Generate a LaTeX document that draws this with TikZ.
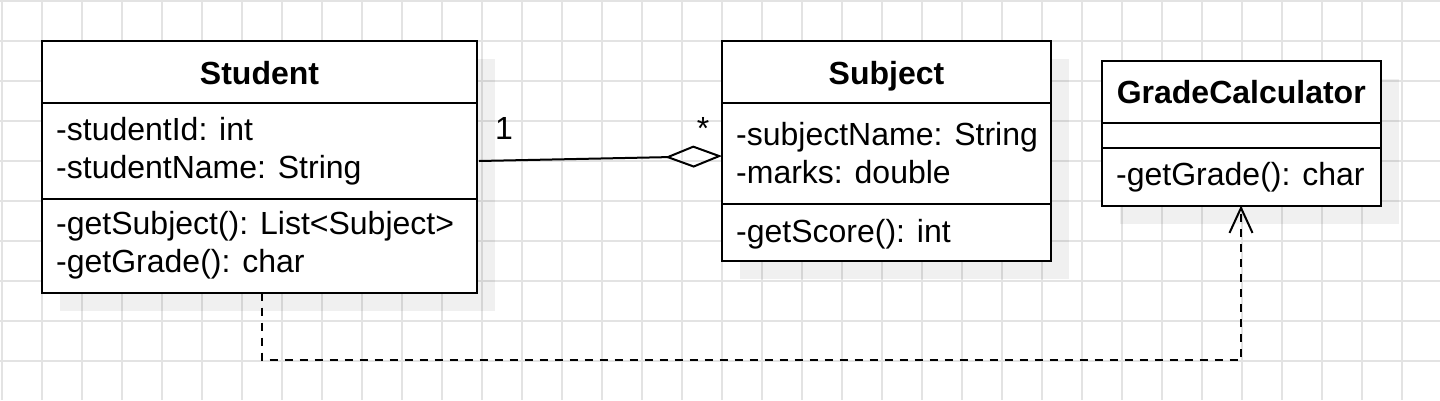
\documentclass[tikz,border=0pt]{standalone}
\usepackage{fontspec}
\setmainfont{Liberation Sans}
\usetikzlibrary{arrows.meta}
\begin{document}
\begin{tikzpicture}[x=1pt,y=-1pt,
  gridline/.style={draw=black!11, line width=2pt},
  shade/.style={fill=black, fill opacity=0.06},
  comp/.style={draw=black, line width=2pt, fill=white, inner sep=0pt, outer sep=0pt, anchor=north west},
  txt/.style={inner sep=0pt, anchor=base west, font=\fontsize{32}{38}\selectfont},
  ttl/.style={inner sep=0pt, anchor=base, font=\fontsize{32}{38}\selectfont\bfseries},
  lbl/.style={inner sep=0pt, anchor=base, font=\fontsize{32}{38}\selectfont},
  agg/.style={line width=2pt, -{Diamond[open, length=57pt, width=22pt]}},
  dep/.style={line width=2pt, dash pattern=on 8pt off 7pt, -{Straight Barb[length=25pt, width=23pt]}}
]
\useasboundingbox (0,0) rectangle (1440,400);
\fill[white] (0,0) rectangle (1440,400);
\foreach \i in {0,...,35} \draw[gridline] (2+40*\i,0) -- (2+40*\i,400);
\foreach \j in {0,...,9} \draw[gridline] (0,1+40*\j) -- (1440,1+40*\j);

% shadows
\fill[shade] (60,59) rectangle (495,310.5);
\fill[shade] (740,59) rectangle (1069,279);
\fill[shade] (1120,79) rectangle (1398.5,223.5);

% Student
\node[comp, minimum width=435pt, minimum height=61.5pt] (stuHead) at (42,41) {};
\node[comp, minimum width=435pt, minimum height=96.5pt] (stuAttr) at (stuHead.south west) {};
\node[comp, minimum width=435pt, minimum height=93.5pt] (stuMeth) at (stuAttr.south west) {};
\node[ttl] (stuT) at (259.5,84) {Student};
\node[txt] (stuA1) at (56,140) {-studentId: int};
\node[txt] (stuA2) at (56,178) {-studentName: String};
\node[txt] (stuM1) at (56,234) {-getSubject(): List<Subject>};
\node[txt] (stuM2) at (56,272) {-getGrade(): char};

% Subject
\node[comp, minimum width=329pt, minimum height=61.5pt] (subHead) at (722,41) {};
\node[comp, minimum width=329pt, minimum height=101.5pt] (subAttr) at (subHead.south west) {};
\node[comp, minimum width=329pt, minimum height=57pt] (subMeth) at (subAttr.south west) {};
\node[ttl] (subT) at (886.5,84) {Subject};
\node[txt] (subA1) at (736,145) {-subjectName: String};
\node[txt] (subA2) at (736,183) {-marks: double};
\node[txt] (subM1) at (736,242) {-getScore(): int};

% GradeCalculator
\node[comp, minimum width=278.5pt, minimum height=61.5pt] (gcHead) at (1102,61) {};
\node[comp, minimum width=278.5pt, minimum height=25.5pt] (gcAttr) at (gcHead.south west) {};
\node[comp, minimum width=278.5pt, minimum height=57.5pt] (gcMeth) at (gcAttr.south west) {};
\node[ttl] (gcT) at (1241.25,103) {GradeCalculator};
\node[txt] (gcM1) at (1116,185) {-getGrade(): char};

% aggregation
\path (stuAttr.north east) ++(2,58.5) coordinate (aggS);
\path (subAttr.north west) ++(0,53.5) coordinate (aggE);
\draw[agg] (aggS) -- (aggE);
\node[lbl] (m1) at (504,139) {1};
\node[lbl] (m2) at (703,139) {*};

% dependency
\path (stuMeth.south west) ++(220,0) coordinate (depS);
\path (gcMeth.south west) ++(139,0) coordinate (depE);
\draw[dep] (depS) -- ++(0,67.5) -| (depE);
\end{tikzpicture}
\end{document}
